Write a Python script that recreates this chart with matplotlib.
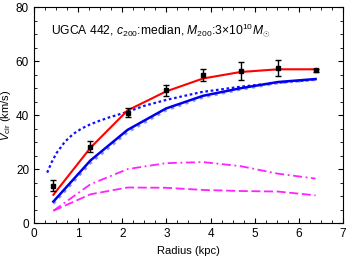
import matplotlib
matplotlib.use('Agg')
import matplotlib.pyplot as plt
from matplotlib.ticker import MultipleLocator

plt.rcParams['font.family'] = 'Liberation Sans'
plt.rcParams['mathtext.fontset'] = 'custom'
plt.rcParams['mathtext.rm'] = 'Liberation Sans'
plt.rcParams['mathtext.it'] = 'Liberation Sans:italic'

# Observed rotation curve
r_obs = [0.44, 1.28, 2.12, 2.99, 3.83, 4.68, 5.53, 6.38]
v_obs = [14.0, 28.4, 41.0, 49.2, 55.0, 56.3, 57.6, 56.6]
v_err = [1.9, 2.0, 1.7, 2.0, 2.2, 3.4, 3.0, 0.5]

# Model curves
v_total = [10.6, 28.0, 41.8, 48.8, 53.6, 56.0, 57.0, 57.0]
v_blue = [8.1, 23.3, 34.6, 42.5, 47.2, 50.0, 52.3, 53.4]
v_blue2 = [7.4, 22.4, 33.8, 41.9, 46.7, 49.6, 52.0, 53.2]
v_disk = [4.7, 14.5, 20.1, 22.3, 22.7, 21.2, 18.4, 16.6]
v_gas = [4.7, 10.8, 13.3, 13.2, 12.4, 12.0, 11.8, 10.4]

# NFW halo (median concentration)
r_nfw = [0.30, 0.40, 0.51, 0.70, 0.89, 1.08, 1.27, 1.49, 1.70, 2.10, 2.50,
         3.00, 3.80, 4.70, 5.50, 6.38]
v_nfw = [18.8, 22.6, 26.0, 30.2, 33.1, 35.1, 36.6, 38.0, 39.2, 41.2, 43.5,
         45.7, 48.6, 50.6, 52.0, 53.2]

fig = plt.figure(figsize=(3.5, 2.62), dpi=100)
ax = fig.add_axes([0.097, 0.147, 0.883, 0.826])

ax.plot(r_obs, v_disk, color='#ff22ff', linestyle=(0, (5, 2, 1, 2)), lw=1.3)
ax.plot(r_obs, v_gas, color='#ff22ff', linestyle=(0, (5, 2)), lw=1.3)
ax.plot(r_nfw, v_nfw, color='#1010ff', linestyle=(0, (1.2, 1.2)), lw=1.6)
ax.plot(r_obs, v_blue2, color='#8899ff', linestyle=(0, (1, 1.5)), lw=2.2)
ax.plot(r_obs, v_blue, color='#0000ee', lw=1.8)
ax.plot(r_obs, v_total, color='#ff0000', lw=1.5)
ax.errorbar(r_obs, v_obs, yerr=v_err, fmt='s', color='black', ms=3,
            capsize=2, elinewidth=1, capthick=1)

ax.set_xlim(0, 7)
ax.set_ylim(0, 80)
ax.xaxis.set_major_locator(MultipleLocator(1))
ax.xaxis.set_minor_locator(MultipleLocator(0.25))
ax.yaxis.set_major_locator(MultipleLocator(20))
ax.yaxis.set_minor_locator(MultipleLocator(5))
ax.tick_params(which='both', direction='in', top=True, right=True, labelsize=8.5)
ax.tick_params(which='major', length=3.5)
ax.tick_params(which='minor', length=2)
ax.set_xlabel('Radius (kpc)', fontsize=8)
ax.set_ylabel(r'$V_{\rm cir}$ (km/s)', fontsize=8, labelpad=2)

ax.text(0.055, 0.875,
        r'UGCA 442, $c_{200}$:median, $M_{200}$:3$\times$10$^{10}$$M_{\odot}$',
        transform=ax.transAxes, fontsize=8.7)

fig.savefig('out.png', dpi=100)
